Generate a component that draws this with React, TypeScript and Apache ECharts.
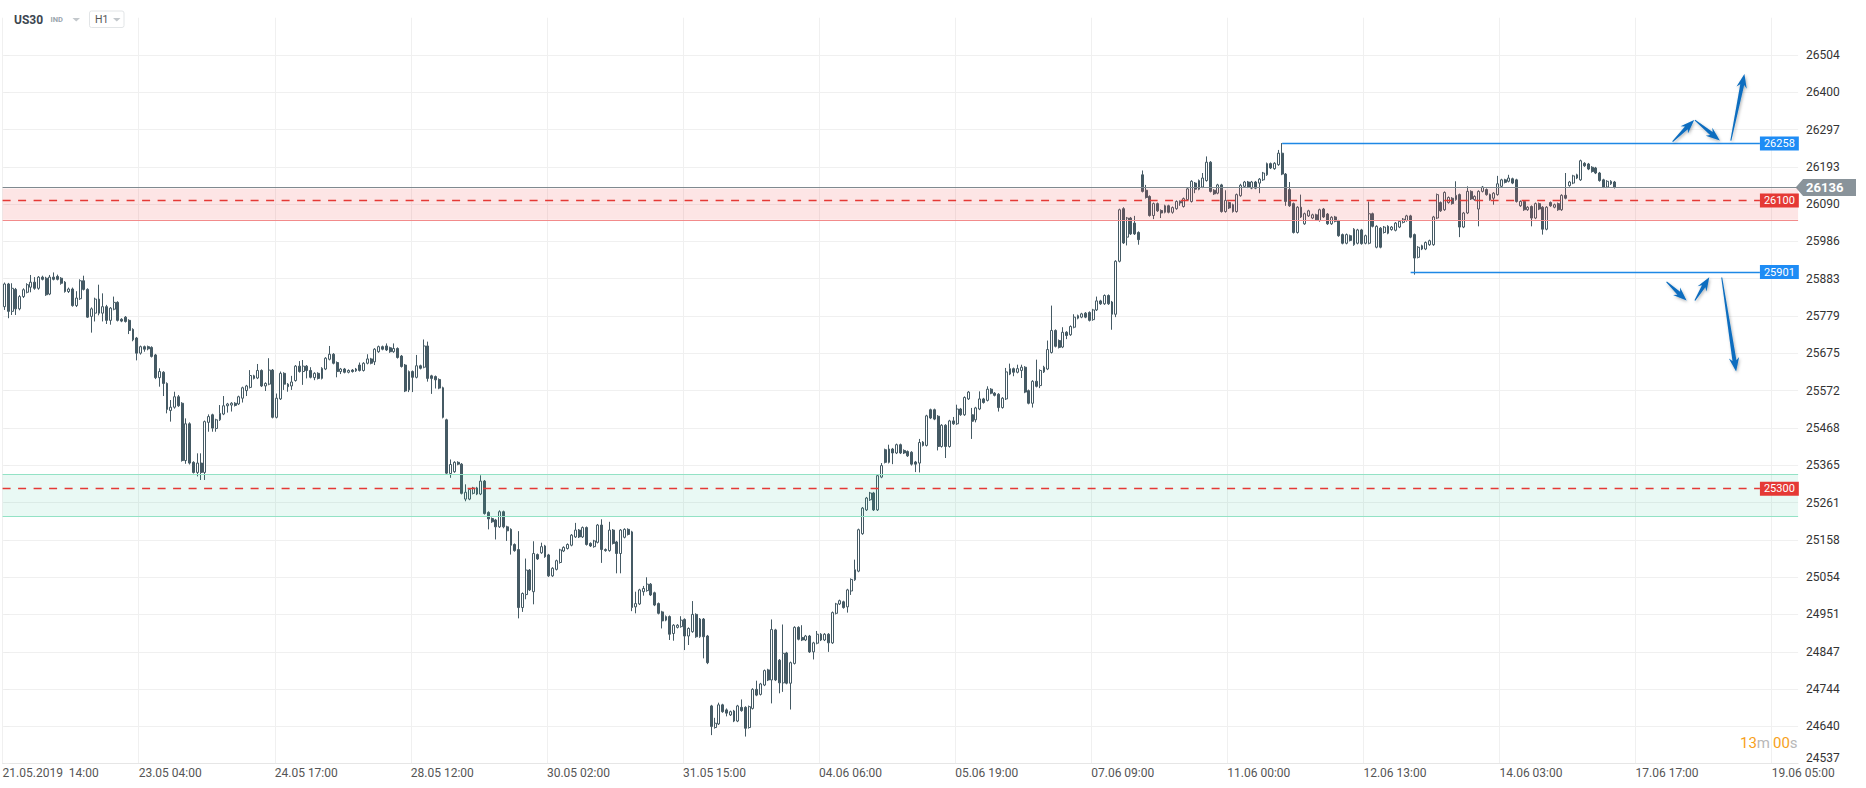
import React, { useEffect, useRef } from 'react';
import * as echarts from 'echarts';

// ---- x-axis tick labels (one every 36 hourly candles) ----
const tickLabels = [
  '21.05.2019  14:00', '23.05 04:00', '24.05 17:00', '28.05 12:00', '30.05 02:00',
  '31.05 15:00', '04.06 06:00', '05.06 19:00', '07.06 09:00', '11.06 00:00',
  '12.06 13:00', '14.06 03:00', '17.06 17:00', '19.06 05:00',
];

// ---- hourly candles [open, close, low, high] ----
const seg1 = [
  [25805,25868,25796,25872],[25868,25792,25773,25871],[25792,25856,25782,25870],[25853,25799,25782,25857],
  [25799,25833,25795,25837],[25833,25852,25829,25856],[25845,25866,25842,25870],[25859,25873,25845,25893],
  [25873,25856,25852,25887],[25856,25887,25852,25890],[25887,25881,25878,25891],[25884,25838,25835,25888],
  [25840,25887,25837,25893],[25887,25881,25878,25900],[25889,25881,25878,25894],[25884,25870,25866,25887],
  [25873,25847,25844,25876],[25847,25854,25843,25858],[25854,25808,25805,25858],[25808,25829,25804,25848],
  [25827,25877,25824,25881],[25877,25853,25850,25891],[25853,25776,25774,25856],[25778,25799,25733,25803],
  [25787,25826,25764,25830],[25826,25787,25781,25866],[25787,25805,25764,25842],[25805,25767,25757,25810],
  [25767,25801,25755,25804],[25798,25817,25795,25833],[25817,25767,25764,25820],[25770,25765,25762,25773],
  [25776,25764,25761,25779],[25767,25739,25729,25770],[25742,25713,25709,25745],[25718,25676,25656,25721],
  [25676,25694,25672,25697],[25694,25687,25680,25697],[25694,25688,25684,25697],[25692,25667,25664,25695],
  [25671,25608,25604,25674],[25608,25625,25583,25634],[25623,25592,25557,25626],[25592,25520,25509,25595],
  [25517,25526,25486,25546],[25526,25555,25522,25569],[25555,25530,25527,25560],[25537,25378,25375,25540],
  [25378,25480,25369,25495],[25480,25371,25367,25484],[25373,25345,25342,25376],[25345,25371,25334,25398],
  [25371,25345,25324,25398],[25345,25486,25324,25489],[25484,25500,25458,25506],[25505,25468,25458,25508],
  [25467,25491,25458,25494],[25491,25509,25488,25532],[25507,25530,25504,25557],[25530,25535,25511,25538],
  [25532,25537,25514,25540],[25537,25531,25528,25540],[25535,25555,25532,25558],[25551,25580,25539,25583],
  [25572,25585,25557,25588],[25581,25614,25578,25629],[25613,25606,25603,25616],[25607,25628,25604,25646],
  [25628,25585,25582,25631],[25585,25592,25571,25595],[25590,25629,25587,25662],[25629,25498,25495,25632],
  [25498,25551,25495,25564],[25549,25620,25546,25625],[25620,25590,25574,25623],[25590,25583,25569,25593],
  [25585,25596,25574,25613],[25600,25640,25597,25643],[25640,25625,25622,25654],[25625,25640,25588,25657],
  [25640,25628,25606,25643],[25628,25609,25606,25637],[25608,25620,25601,25623],[25620,25606,25603,25623],
  [25606,25634,25603,25637],[25632,25662,25629,25665],[25659,25673,25656,25696],[25673,25648,25645,25676],
  [25650,25625,25609,25653],[25625,25632,25618,25635],[25632,25623,25620,25635],[25623,25628,25620,25631],
  [25629,25625,25622,25632],[25627,25632,25624,25635],[25643,25628,25625,25650],[25628,25648,25625,25651],
  [25648,25660,25645,25673],[25660,25648,25645,25663],[25652,25687,25643,25690],[25680,25694,25677,25697],
  [25694,25687,25684,25697],[25696,25685,25682,25703],[25691,25680,25677,25694],[25680,25689,25677,25703],
  [25689,25664,25661,25692],[25668,25639,25636,25671],[25643,25571,25568,25646],[25574,25625,25568,25628],
  [25625,25609,25568,25628],[25609,25641,25606,25671],[25641,25634,25631,25644],[25637,25696,25634,25714],
  [25696,25606,25597,25708],[25613,25606,25563,25616],[25611,25602,25578,25614],[25603,25579,25576,25606],
  [25580,25498,25495,25583],[25491,25343,25340,25494],
];
const seg2 = [
  [25342,25367,25330,25381],[25347,25373,25344,25376],[25373,25368,25365,25376],[25368,25287,25284,25371],
  [25271,25290,25265,25312],[25271,25298,25268,25301],[25287,25302,25284,25305],[25302,25285,25282,25305],
  [25285,25321,25282,25337],[25321,25231,25228,25324],[25234,25216,25187,25237],[25217,25208,25205,25220],
  [25213,25194,25159,25216],[25194,25236,25191,25240],[25236,25194,25190,25239],[25194,25183,25155,25197],
  [25187,25143,25117,25190],[25145,25128,25125,25148],[25131,24970,24940,25182],[24970,25009,24958,25012],
  [25006,25074,24993,25106],[25074,25019,25016,25077],[25014,25120,24979,25154],[25117,25105,25102,25120],
  [25122,25139,25119,25150],[25141,25111,25108,25144],[25116,25058,25055,25119],[25058,25079,25055,25082],
  [25076,25100,25073,25103],[25095,25130,25092,25133],[25127,25137,25124,25140],[25134,25145,25131,25148],
  [25143,25171,25140,25174],[25166,25185,25163,25205],[25185,25166,25163,25188],[25166,25192,25163,25195],
  [25192,25145,25142,25195],[25148,25141,25138,25151],[25139,25155,25136,25158],[25151,25199,25148,25202],
  [25199,25131,25094,25215],[25131,25128,25125,25134],[25128,25185,25125,25208],[25185,25148,25145,25188],
  [25152,25120,25065,25155],[25120,25185,25065,25188],[25165,25187,25162,25190],[25187,25173,25170,25190],
  [25180,24970,24960,25183],[24972,24981,24954,25014],[24980,25019,24977,25022],[25014,25023,25003,25030],
  [25017,25035,25014,25054],[25035,25005,25002,25038],[25011,24977,24974,25014],[24981,24954,24951,24984],
  [24958,24933,24912,24961],[24935,24945,24932,24948],[24945,24896,24880,24948],[24898,24921,24878,24924],
  [24915,24921,24912,24924],[24917,24935,24914,24946],[24937,24891,24852,24940],[24891,24912,24866,24915],
  [24903,24951,24900,24988],[24951,24889,24886,24954],[24889,24938,24886,24941],[24938,24889,24829,24941],
  [24891,24817,24813,24894],
];
const seg3 = [
  [24697,24640,24616,24700],[24637,24649,24634,24664],[24647,24700,24644,24706],[24700,24681,24678,24703],
  [24686,24677,24668,24690],[24672,24681,24669,24684],[24683,24655,24652,24686],[24655,24697,24652,24700],
  [24693,24684,24681,24715],[24693,24635,24612,24696],[24637,24695,24634,24698],[24690,24743,24687,24746],
  [24743,24727,24724,24767],[24729,24758,24726,24761],[24755,24795,24752,24798],[24797,24769,24766,24800],
  [24769,24909,24704,24937],[24908,24769,24766,24911],[24824,24761,24732,24827],[24761,24843,24736,24923],
  [24844,24760,24757,24847],[24760,24817,24687,24820],[24815,24915,24812,24918],[24915,24882,24879,24918],
  [24887,24880,24877,24921],[24880,24891,24877,24894],[24891,24847,24844,24894],[24847,24872,24826,24875],
  [24871,24896,24868,24905],[24896,24880,24877,24899],[24880,24896,24877,24899],[24896,24872,24847,24899],
  [24872,24956,24869,24959],[24954,24980,24951,24983],[24980,24989,24977,24992],[24986,24970,24967,24989],
  [24972,25019,24956,25022],[25016,25048,25005,25051],[25047,25075,25044,25103],[25071,25186,25068,25189],
  [25175,25246,25172,25249],[25241,25274,25238,25277],[25269,25288,25266,25291],[25288,25241,25238,25291],
  [25241,25336,25238,25339],[25332,25364,25329,25371],[25408,25373,25370,25411],[25373,25410,25370,25422],
  [25410,25399,25368,25413],[25399,25422,25396,25425],[25422,25399,25396,25425],[25406,25399,25396,25409],
  [25403,25391,25388,25406],[25401,25368,25364,25404],[25374,25368,25346,25377],[25371,25428,25345,25438],
  [25429,25420,25417,25432],[25420,25502,25417,25505],[25519,25496,25493,25522],[25519,25493,25490,25522],
  [25501,25417,25406,25504],[25417,25476,25414,25479],[25476,25417,25385,25479],[25417,25488,25414,25491],
  [25488,25480,25477,25499],[25480,25521,25477,25533],[25521,25505,25502,25524],[25505,25553,25502,25556],
  [25549,25568,25546,25571],[25505,25487,25438,25524],[25491,25524,25484,25527],[25521,25549,25518,25570],
  [25549,25539,25536,25552],[25545,25576,25542,25584],[25576,25565,25562,25579],[25565,25559,25556,25568],
  [25562,25525,25514,25565],[25525,25551,25522,25554],[25549,25624,25546,25635],[25618,25633,25615,25647],
  [25633,25623,25612,25636],[25623,25633,25620,25644],[25628,25637,25607,25644],[25637,25568,25565,25640],
  [25572,25537,25534,25575],[25537,25598,25525,25601],[25598,25584,25581,25658],[25586,25628,25579,25631],
  [25624,25637,25621,25641],[25632,25686,25629,25711],[25678,25739,25675,25808],[25739,25695,25692,25742],
  [25711,25692,25689,25714],[25693,25734,25690,25748],[25734,25725,25715,25737],[25727,25750,25724,25753],
  [25748,25776,25745,25784],[25773,25780,25770,25783],[25776,25785,25773,25788],[25787,25776,25773,25790],
  [25789,25767,25764,25792],[25769,25796,25766,25799],[25796,25821,25793,25833],[25821,25813,25810,25824],
  [25813,25836,25810,25839],[25836,25813,25810,25839],[25818,25784,25741,25821],[25784,25931,25776,25934],
  [25931,26074,25928,26077],[26077,25982,25979,26081],[25998,26051,25975,26054],[26051,26007,26004,26054],
  [26037,26007,26004,26057],[26011,25991,25977,26014],
];
const seg4 = [
  [26171,26125,26122,26183],[26128,26108,26105,26143],[26111,26058,26055,26114],[26058,26091,26048,26094],
  [26091,26071,26068,26094],[26072,26065,26051,26075],[26067,26085,26064,26088],[26085,26067,26064,26088],
  [26067,26080,26063,26083],[26077,26097,26074,26100],[26097,26093,26085,26100],[26083,26105,26080,26108],
  [26102,26132,26099,26137],[26097,26153,26094,26156],[26148,26131,26120,26151],[26131,26155,26128,26158],
  [26137,26162,26134,26176],[26155,26206,26152,26222],[26206,26125,26122,26209],[26128,26118,26115,26131],
  [26120,26143,26117,26146],[26143,26069,26066,26146],[26069,26100,26066,26128],[26094,26079,26076,26097],
  [26088,26069,26066,26091],[26069,26116,26066,26119],[26113,26142,26110,26146],[26139,26151,26136,26154],
  [26151,26137,26134,26154],[26134,26151,26131,26154],[26151,26134,26131,26154],[26148,26159,26120,26162],
  [26157,26176,26154,26179],[26171,26202,26168,26205],[26202,26190,26187,26205],[26188,26203,26185,26206],
  [26199,26231,26196,26240],[26231,26173,26170,26259],[26173,26097,26085,26176],[26130,26085,26082,26151],
  [26091,26011,26008,26094],[26011,26081,26008,26084],[26081,26054,26051,26116],[26035,26063,26032,26066],
  [26057,26071,26054,26074],[26051,26060,26048,26063],[26060,26046,26043,26063],[26044,26074,26041,26077],
  [26076,26054,26051,26079],[26062,26035,26032,26065],[26035,26053,26032,26056],[26054,26042,26039,26057],
  [26043,26002,25999,26046],[26005,25981,25978,26008],[25981,26005,25978,26008],[26002,25989,25986,26005],
  [25977,26020,25974,26023],[25981,26018,25978,26021],[26018,25980,25977,26021],[25981,26002,25978,26005],
  [25981,26063,25978,26097],[26063,26028,26025,26066],[25970,26028,25967,26031],[26023,25970,25967,26026],
  [26011,26026,26008,26029],[26028,26009,26006,26031],[26019,26026,26016,26029],[26017,26037,26014,26040],
  [26026,26042,26023,26045],[26039,26048,26036,26051],[26044,26057,26041,26060],[26057,25998,25995,26060],
  [26005,25940,25894,26008],[25942,25970,25939,25973],[25974,25965,25962,25977],[25965,25983,25962,25986],
  [25977,25988,25974,25991],[25977,26054,25974,26057],[26051,26116,26048,26119],[26094,26071,26068,26097],
  [26074,26122,26071,26125],[26094,26108,26091,26111],[26106,26091,26088,26109],[26102,26114,26099,26153],
  [26116,26026,25998,26119],[26026,26065,26023,26068],[26065,26125,26062,26139],[26125,26104,26101,26128],
  [26102,26111,26099,26114],[26076,26125,26028,26128],[26125,26137,26122,26140],[26130,26116,26113,26133],
  [26116,26102,26099,26119],[26106,26120,26088,26123],[26116,26146,26113,26168],[26139,26157,26136,26160],
  [26157,26150,26147,26160],[26153,26162,26150,26171],[26160,26148,26145,26163],[26157,26097,26094,26160],
  [26085,26097,26082,26100],[26097,26074,26071,26100],[26074,26081,26071,26084],[26083,26051,26028,26086],
  [26051,26091,26048,26094],[26091,26076,26073,26094],[26081,26020,26005,26084],[26020,26081,26017,26084],
  [26094,26085,26082,26097],[26081,26088,26078,26091],[26091,26074,26071,26094],[26074,26114,26071,26117],
  [26114,26106,26103,26176],[26141,26151,26138,26154],[26148,26168,26145,26171],[26162,26171,26159,26174],
  [26157,26210,26154,26213],[26203,26196,26193,26206],[26201,26187,26184,26204],[26192,26180,26177,26195],
  [26190,26176,26173,26193],[26176,26155,26152,26179],[26157,26137,26134,26160],[26137,26153,26134,26156],
  [26146,26153,26143,26156],[26151,26136,26133,26154],
];
const ohlc = [...seg1, ...seg2, ...seg3, ...seg4];

// ---- axes ----
const yMin = 24536.66;
const yStep = 103.5302;
const yMax = 26607;
const xMin = -0.5;
const xStep = 36;
const xMax = 474.5;

// ---- levels & zones ----
const lastPrice = 26136;
const resistanceZone = [26046, 26133];
const resistanceLevel = 26100;
const supportZone = [25223, 25340];
const supportLevel = 25300;
const highLevel = { from: 338, value: 26258 };
const lowLevel = { from: 372, value: 25901 };
const levelEnd = 464.4;

// ---- drawn arrows [fromIndex, fromPrice, toIndex, toPrice] ----
const arrows = [
  [441.3, 26263, 447.0, 26323],
  [447.2, 26323, 453.8, 26266],
  [456.7, 26266, 460.3, 26451],
  [439.7, 25874, 445.0, 25822],
  [447.2, 25822, 451.0, 25887],
  [454.3, 25886, 458.1, 25625],
];

const FONT = 'Roboto, "Noto Sans", Arial, sans-serif';
const CANDLE = '#455a64';

function boxLabel(text: string, bg: string) {
  return {
    show: true,
    position: 'end',
    distance: 0,
    formatter: text,
    color: '#ffffff',
    backgroundColor: bg,
    padding: [2, 4, 1, 4],
    fontSize: 11,
    fontFamily: FONT,
  };
}

function arrowPoints(x1: number, y1: number, x2: number, y2: number) {
  const dx = x2 - x1, dy = y2 - y1;
  const L = Math.hypot(dx, dy);
  const ux = dx / L, uy = dy / L;
  const nx = -uy, ny = ux;
  const head = Math.min(14, L * 0.5);
  const hw = 5.2, sw = 2.0, tw = 0.5;
  const bx = x2 - ux * head, by = y2 - uy * head;
  const nkx = bx + ux * 3, nky = by + uy * 3;
  return [
    [x1 + nx * tw, y1 + ny * tw],
    [nkx + nx * sw, nky + ny * sw],
    [bx + nx * hw, by + ny * hw],
    [x2, y2],
    [bx - nx * hw, by - ny * hw],
    [nkx - nx * sw, nky - ny * sw],
    [x1 - nx * tw, y1 - ny * tw],
  ];
}

export default function App() {
  const ref = useRef<HTMLDivElement>(null);
  useEffect(() => {
    if (!ref.current) return;
    const chart = echarts.init(ref.current, null, { renderer: 'svg' });
    const candleData = ohlc.map((d, i) => [i, d[0], d[1], d[2], d[3]]);

    const option: any = {
      animation: false,
      backgroundColor: '#ffffff',
      grid: { left: 2.6, right: 67.9, top: 17.7, bottom: 24.3, containLabel: false, outerBoundsMode: 'none' },
      xAxis: {
        type: 'value',
        min: xMin,
        max: xMax,
        interval: xStep,
        axisLine: { show: true, lineStyle: { color: '#e6e6e6' } },
        axisTick: { show: false },
        splitLine: { show: true, showMaxLine: false, lineStyle: { color: '#f0f0f0' } },
        axisLabel: {
          showMaxLabel: false,
          align: 'left',
          margin: 3,
          color: '#555',
          fontSize: 12,
          fontFamily: FONT,
          formatter: (v: number) => tickLabels[Math.round((v - xMin) / xStep)] ?? '',
        },
      },
      yAxis: {
        type: 'value',
        position: 'right',
        min: yMin,
        max: yMax,
        interval: yStep,
        axisLine: { show: false },
        axisTick: { show: true, length: 5, lineStyle: { color: '#ececec' } },
        splitLine: { show: true, showMaxLine: false, lineStyle: { color: '#f0f0f0' } },
        axisLabel: {
          showMaxLabel: false,
          margin: 8,
          color: '#333',
          fontSize: 12,
          fontFamily: FONT,
          formatter: (v: number) => {
            const s = String(Math.round(v));
            return v < yMin + 1 ? `{lo|${s}}` : s;
          },
          rich: { lo: { padding: [0, 0, 12, 0], fontSize: 12, color: '#333', fontFamily: FONT } },
        },
      },
      series: [
        {
          type: 'candlestick',
          data: candleData,
          barWidth: 2.4,
          z: 2,
          itemStyle: {
            color: '#ffffff',
            color0: CANDLE,
            borderColor: CANDLE,
            borderColor0: CANDLE,
            borderWidth: 1,
          },
          markArea: {
            silent: true,
            z: 3,
            data: [
              [{ yAxis: resistanceZone[0], itemStyle: { color: 'rgba(239,83,80,0.15)' } }, { yAxis: resistanceZone[1] }],
              [{ yAxis: supportZone[0], itemStyle: { color: 'rgba(38,198,150,0.10)' } }, { yAxis: supportZone[1] }],
            ],
          },
          markLine: {
            silent: true,
            z: 5,
            symbol: ['none', 'none'],
            label: { show: false },
            data: [
              { yAxis: resistanceZone[0], lineStyle: { color: '#f28b8b', width: 1, type: 'solid' } },
              { yAxis: supportZone[0], lineStyle: { color: '#93e2c5', width: 1.2, type: 'solid' } },
              { yAxis: supportZone[1], lineStyle: { color: '#93e2c5', width: 1.2, type: 'solid' } },
              { yAxis: lastPrice, lineStyle: { color: '#7f8a90', width: 1.2, type: 'solid' } },
              [
                { coord: [xMin, resistanceLevel], lineStyle: { color: '#e53935', width: 1.3, type: [8, 7.5] }, label: boxLabel(String(resistanceLevel), '#e53935') },
                { coord: [levelEnd, resistanceLevel] },
              ],
              [
                { coord: [xMin, supportLevel], lineStyle: { color: '#e53935', width: 1.3, type: [8, 7.5] }, label: boxLabel(String(supportLevel), '#e53935') },
                { coord: [levelEnd, supportLevel] },
              ],
              [
                { coord: [highLevel.from, highLevel.value], lineStyle: { color: '#1e88e5', width: 1.3, type: 'solid' }, label: boxLabel(String(highLevel.value), '#1e8cf5') },
                { coord: [levelEnd, highLevel.value] },
              ],
              [
                { coord: [lowLevel.from, lowLevel.value], lineStyle: { color: '#1e88e5', width: 1.3, type: 'solid' }, label: boxLabel(String(lowLevel.value), '#1e8cf5') },
                { coord: [levelEnd, lowLevel.value] },
              ],
            ],
          },
        },
      ],
    };
    chart.setOption(option);

    const px = (k: number, p: number) => chart.convertToPixel({ gridIndex: 0 }, [k, p]) as number[];
    const priceY = px(0, lastPrice)[1];
    const rightEdge = px(xMax, lastPrice)[0];

    const elements: any[] = [];
    // header
    elements.push(
      { type: 'text', x: 14, y: 19.5, style: { text: 'US30', fill: '#3c4650', fontSize: 12, fontWeight: 'bold', fontFamily: FONT, verticalAlign: 'middle' } },
      { type: 'text', x: 50.5, y: 19.5, style: { text: 'IND', fill: '#9aa5ad', fontSize: 7.5, fontWeight: 'bold', fontFamily: FONT, verticalAlign: 'middle' } },
      { type: 'polygon', shape: { points: [[72.5, 18], [80, 18], [76.25, 21.5]] }, style: { fill: '#c3c8cc' } },
      { type: 'rect', shape: { x: 89.5, y: 11, width: 34.5, height: 16.5, r: 2 }, style: { fill: '#ffffff', stroke: '#e2e5e7', lineWidth: 1 } },
      { type: 'text', x: 95, y: 19.5, style: { text: 'H1', fill: '#555', fontSize: 10.5, fontFamily: FONT, verticalAlign: 'middle' } },
      { type: 'polygon', shape: { points: [[113, 18], [120.5, 18], [116.75, 21.5]] }, style: { fill: '#c3c8cc' } },
    );
    // current price marker
    elements.push(
      { type: 'polygon', shape: { points: [[rightEdge - 2.5, priceY], [rightEdge + 5, priceY - 8.5], [1856, priceY - 8.5], [1856, priceY + 8.5], [rightEdge + 5, priceY + 8.5]] }, style: { fill: '#89939a' } },
      { type: 'text', x: rightEdge + 8, y: priceY + 0.5, style: { text: String(lastPrice), fill: '#ffffff', fontSize: 13, fontWeight: 'bold', fontFamily: FONT, verticalAlign: 'middle' } },
    );
    // countdown
    elements.push({
      type: 'text', x: 1740, y: 743,
      style: {
        text: '{o|13}{g|m} {o|00}{g|s}', verticalAlign: 'middle', fontFamily: FONT,
        rich: { o: { fill: '#f7a11a', fontSize: 15, fontFamily: FONT }, g: { fill: '#b8b8b8', fontSize: 15, fontFamily: FONT } },
      },
    });
    // arrows
    arrows.forEach((a) => {
      const p1 = px(a[0], a[1]);
      const p2 = px(a[2], a[3]);
      elements.push({
        type: 'polygon',
        shape: { points: arrowPoints(p1[0], p1[1], p2[0], p2[1]) },
        style: { fill: '#0b6dbf', shadowBlur: 3, shadowColor: 'rgba(0,0,0,0.3)', shadowOffsetX: 1, shadowOffsetY: 1.5 },
        z: 10,
      });
    });
    chart.setOption({ graphic: { elements } });

    return () => chart.dispose();
  }, []);
  return <div ref={ref} style={{ position: 'absolute', left: 0, top: 0, width: '1866px', height: '788px' }} />;
}
